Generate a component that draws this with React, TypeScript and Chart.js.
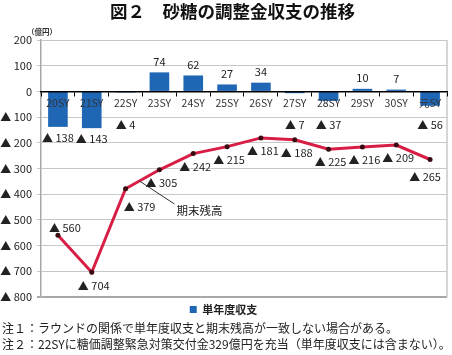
import React, { useEffect, useRef } from "react";
import { Chart, registerables } from "chart.js";

Chart.register(...registerables);

const FONT = '"Noto Sans CJK JP", "Noto Sans", sans-serif';

const categories = ["20SY", "21SY", "22SY", "23SY", "24SY", "25SY", "26SY", "27SY", "28SY", "29SY", "30SY", "元SY"];
const annualBalance = [-138, -143, -4, 74, 62, 27, 34, -7, -37, 10, 7, -56];
const endBalance = [-560, -704, -379, -305, -242, -215, -181, -188, -225, -216, -209, -265];
const yMin = -800;
const yMax = 200;
const yStep = 100;

const titleText = "図２　砂糖の調整金収支の推移";
const unitText = "（億円）";
const lineName = "期末残高";
const barName = "単年度収支";
const notes = [
  "注１：ラウンドの関係で単年度収支と期末残高が一致しない場合がある。",
  "注２：22SYに糖価調整緊急対策交付金329億円を充当（単年度収支には含まない）。",
];

const fmt = (v: number) => (v < 0 ? "▲ " + -v : String(v));

const labelsPlugin = {
  id: "customLabels",
  afterDatasetsDraw(chart: any) {
    const ctx = chart.ctx;
    const yScale = chart.scales.y;
    const zeroY = yScale.getPixelForValue(0);
    ctx.save();
    ctx.fillStyle = "#222";
    ctx.font = "11px " + FONT;
    ctx.textAlign = "center";
    ctx.textBaseline = "middle";
    // bar labels
    const barMeta = chart.getDatasetMeta(0);
    barMeta.data.forEach((el: any, i: number) => {
      const v = annualBalance[i];
      if (v >= 0) {
        ctx.fillText(fmt(v), el.x, el.y - 11);
      } else {
        ctx.fillText(fmt(v), el.x, Math.max(el.y + 11, zeroY + 33));
      }
    });
    // line labels
    const lineMeta = chart.getDatasetMeta(1);
    lineMeta.data.forEach((el: any, i: number) => {
      let dx = 2;
      let dy = 13;
      if (i === 0) { dx = 7; dy = -8; }
      if (i === 2) { dx = 14; dy = 18; }
      if (i === lineMeta.data.length - 1) { dx = -5; dy = 17; }
      ctx.fillText(fmt(endBalance[i]), el.x + dx, el.y + dy);
    });
    // annotation
    const p2 = lineMeta.data[2];
    const p3 = lineMeta.data[3];
    const t = 0.41;
    const sx = p2.x + (p3.x - p2.x) * t;
    const sy = p2.y + (p3.y - p2.y) * t;
    const ex = sx + 35;
    const ey = sy + 23;
    ctx.strokeStyle = "#333";
    ctx.lineWidth = 1;
    ctx.beginPath();
    ctx.moveTo(sx, sy);
    ctx.lineTo(ex, ey);
    ctx.stroke();
    ctx.font = "11.5px " + FONT;
    ctx.textAlign = "left";
    ctx.fillText(lineName, ex + 2, ey + 7);
    // unit
    ctx.font = "bold 7.5px " + FONT;
    ctx.textAlign = "center";
    ctx.fillStyle = "#333";
    ctx.fillText(unitText, chart.chartArea.left + 1, chart.chartArea.top - 8);
    ctx.restore();
  },
};

const borderPlugin = {
  id: "rightBorder",
  beforeDatasetsDraw(chart: any) {
    const { ctx, chartArea } = chart;
    ctx.save();
    ctx.strokeStyle = "#C8C8C8";
    ctx.lineWidth = 1.5;
    ctx.beginPath();
    ctx.moveTo(chartArea.right, chartArea.top);
    ctx.lineTo(chartArea.right, chartArea.bottom);
    ctx.stroke();
    ctx.restore();
  },
};

export default function App() {
  const ref = useRef<HTMLCanvasElement | null>(null);
  useEffect(() => {
    if (!ref.current) return;
    Chart.defaults.font.family = FONT;
    const chart = new Chart(ref.current, {
      type: "bar",
      data: {
        labels: categories,
        datasets: [
          {
            type: "bar",
            label: barName,
            data: annualBalance,
            backgroundColor: "#1F66B5",
            barPercentage: 0.58,
            categoryPercentage: 1,
            order: 2,
          } as any,
          {
            type: "line",
            label: lineName,
            data: endBalance,
            borderColor: "#D81E45",
            borderWidth: 3,
            pointRadius: 2.5,
            pointBackgroundColor: "#3A0A12",
            pointBorderWidth: 0,
            tension: 0,
            order: 1,
          } as any,
        ],
      },
      options: {
        responsive: false,
        animation: false,
        devicePixelRatio: 1,
        layout: { padding: { left: 0, right: 5, top: 40, bottom: 30 } },
        plugins: {
          title: { display: false },
          tooltip: { enabled: false },
          legend: {
            position: "bottom",
            labels: {
              filter: (item: any) => item.datasetIndex === 0,
              boxWidth: 7,
              boxHeight: 7,
              padding: 7,
              color: "#222",
              font: { size: 11, weight: "bold", family: FONT },
            },
          },
        },
        scales: {
          x: {
            position: { y: 0 } as any,
            grid: {
              drawOnChartArea: false,
              drawTicks: true,
              tickLength: 4,
              color: "#000",
              z: 1,
            },
            border: { color: "#000", width: 1.5, z: 1 },
            ticks: {
              font: { size: 10.5, family: FONT },
              color: "#333",
              padding: 1,
              maxRotation: 0,
              autoSkip: false,
              z: 1,
            },
          },
          y: {
            min: yMin,
            max: yMax,
            ticks: {
              stepSize: yStep,
              callback: (v: any) => fmt(Number(v)),
              font: { size: 11, family: FONT },
              color: "#222",
              padding: 5,
            },
            grid: {
              color: (c: any) => (c.tick && c.tick.value === yMin ? "#A8A8A8" : "#C8C8C8"),
              lineWidth: (c: any) => (c.tick && c.tick.value === yMin ? 2 : 1),
              tickLength: 4,
            },
            border: { color: "#A8A8A8", width: 1.5 },
            afterFit: (s: any) => {
              s.width = 41;
            },
          },
        },
      } as any,
      plugins: [borderPlugin, labelsPlugin],
    });
    return () => chart.destroy();
  }, []);

  return (
    <div style={{ position: "fixed", left: 0, top: 0, width: 452, height: 355, background: "#fff", fontFamily: FONT }}>
      <canvas ref={ref} width={452} height={355} style={{ display: "block", width: 452, height: 355 }} />
      <div
        style={{
          position: "absolute",
          left: 110,
          top: 2,
          fontSize: 17.5,
          fontWeight: "bold",
          lineHeight: 1,
          color: "#111",
          whiteSpace: "nowrap",
        }}
      >
        {titleText}
      </div>
      {notes.map((n, i) => (
        <div
          key={i}
          style={{
            position: "absolute",
            left: 2,
            top: 322 + i * 16,
            fontSize: 12,
            lineHeight: 1,
            color: "#222",
            whiteSpace: "nowrap",
          }}
        >
          {n}
        </div>
      ))}
    </div>
  );
}
